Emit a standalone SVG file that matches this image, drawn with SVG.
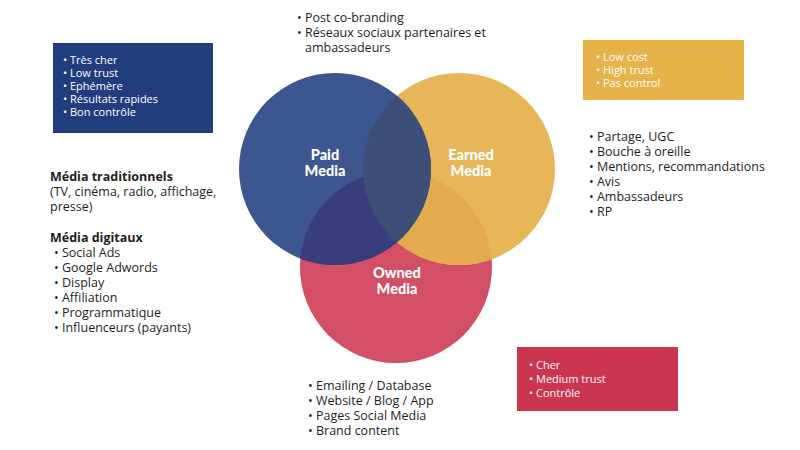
<svg xmlns="http://www.w3.org/2000/svg" width="800" height="450" viewBox="0 0 800 450">
<style>
.t{font-family:"Open Sans","Liberation Sans",sans-serif;font-size:12.5px;fill:#1e1e1e}
.b{font-weight:bold}
.w{font-family:"Open Sans","Liberation Sans",sans-serif;font-size:11px;fill:#ffffff}
.lbl{font-family:"Lato","Liberation Sans",sans-serif;font-size:14.5px;font-weight:900;fill:#ffffff;text-anchor:middle}
</style>
<defs>
<clipPath id="cPaid"><circle cx="335" cy="169" r="96"/></clipPath>
<clipPath id="cEarned"><circle cx="459" cy="169" r="96"/></clipPath>
<clipPath id="cOwned"><circle cx="396" cy="267" r="96"/></clipPath>
</defs>
<rect width="800" height="450" fill="#ffffff"/>

<g id="owned">
<circle cx="396" cy="267" r="96" fill="#D24F66"/>
</g>
<g id="earned">
<circle cx="459" cy="169" r="96" fill="#E6B658"/>
</g>
<g id="paid">
<circle cx="335" cy="169" r="96" fill="#3E5690"/>
</g>
<g id="overlaps">
<g clip-path="url(#cEarned)"><circle cx="396" cy="267" r="96" fill="#E4AB4E"/></g>
<g clip-path="url(#cPaid)"><circle cx="396" cy="267" r="96" fill="#3A3D7C"/></g>
<g clip-path="url(#cPaid)"><circle cx="459" cy="169" r="96" fill="#3D4F78"/></g>
</g>
<g id="labels">
<text class="lbl" x="325" y="160">Paid</text>
<text class="lbl" x="325" y="176">Media</text>
<text class="lbl" x="471" y="160">Earned</text>
<text class="lbl" x="471" y="176">Media</text>
<text class="lbl" x="397" y="278">Owned</text>
<text class="lbl" x="397" y="294">Media</text>
</g>

<g id="paid-box">
<rect x="53" y="43" width="160" height="90" fill="#213D7E"/>
<text class="w" x="63" y="64">• Très cher</text>
<text class="w" x="63" y="77">• Low trust</text>
<text class="w" x="63" y="90">• Ephémère</text>
<text class="w" x="63" y="103">• Résultats rapides</text>
<text class="w" x="63" y="116">• Bon contrôle</text>
</g>

<g id="earned-box">
<rect x="583" y="40" width="161" height="60" fill="#E5B34A"/>
<text class="w" x="596" y="61">• Low cost</text>
<text class="w" x="596" y="74">• High trust</text>
<text class="w" x="596" y="87">• Pas control</text>
</g>

<g id="owned-box">
<rect x="517" y="347" width="161" height="64" fill="#CC3550"/>
<text class="w" x="529" y="369">• Cher</text>
<text class="w" x="529" y="383">• Medium trust</text>
<text class="w" x="529" y="397">• Contrôle</text>
</g>

<g id="top-text">
<text class="t" x="297" y="22">• Post co-branding</text>
<text class="t" x="297" y="37">• Réseaux sociaux partenaires et</text>
<text class="t" x="305" y="52">ambassadeurs</text>
</g>

<g id="left-text">
<text class="t b" x="50" y="181">Média traditionnels</text>
<text class="t" x="50" y="196">(TV, cinéma, radio, affichage,</text>
<text class="t" x="50" y="211">presse)</text>
<text class="t b" x="50" y="242">Média digitaux</text>
<text class="t" x="54" y="257">• Social Ads</text>
<text class="t" x="54" y="272">• Google Adwords</text>
<text class="t" x="54" y="287">• Display</text>
<text class="t" x="54" y="302">• Affiliation</text>
<text class="t" x="54" y="317">• Programmatique</text>
<text class="t" x="54" y="332">• Influenceurs (payants)</text>
</g>

<g id="right-text">
<text class="t" x="589" y="141">• Partage, UGC</text>
<text class="t" x="589" y="156">• Bouche à oreille</text>
<text class="t" x="589" y="171">• Mentions, recommandations</text>
<text class="t" x="589" y="186">• Avis</text>
<text class="t" x="589" y="201">• Ambassadeurs</text>
<text class="t" x="589" y="216">• RP</text>
</g>

<g id="bottom-text">
<text class="t" x="308" y="390">• Emailing / Database</text>
<text class="t" x="308" y="405">• Website / Blog / App</text>
<text class="t" x="308" y="420">• Pages Social Media</text>
<text class="t" x="308" y="435">• Brand content</text>
</g>
</svg>
